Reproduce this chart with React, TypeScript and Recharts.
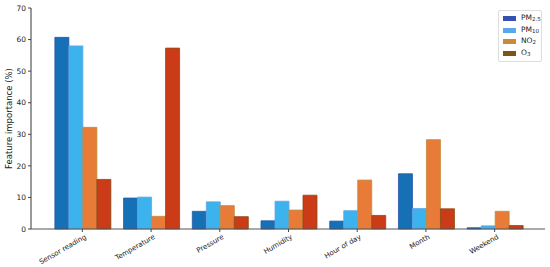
import { Bar, BarChart, XAxis, YAxis } from "recharts";

const features = ["Sensor reading", "Temperature", "Pressure", "Humidity", "Hour of day", "Month", "Weekend"];
const pm25 = [60.7, 9.8, 5.6, 2.6, 2.5, 17.5, 0.4];
const pm10 = [58.0, 10.1, 8.6, 8.8, 5.8, 6.5, 1.0];
const no2 = [32.2, 4.0, 7.4, 6.0, 15.5, 28.3, 5.6];
const o3 = [15.7, 57.3, 3.9, 10.7, 4.3, 6.4, 1.1];
const yTicks = [0, 10, 20, 30, 40, 50, 60, 70];

const data = features.map((f, i) => ({ feature: f, pm25: pm25[i], pm10: pm10[i], no2: no2[i], o3: o3[i] }));

const legendItems = [
  { color: "#3552b0", base: "PM", sub: "2.5" },
  { color: "#5aa8ec", base: "PM", sub: "10" },
  { color: "#c98a3a", base: "NO", sub: "2" },
  { color: "#7a5514", base: "O", sub: "3" },
];

function LegendBox() {
  return (
    <div
      style={{
        position: "absolute",
        left: 498,
        top: 10,
        width: 44,
        boxSizing: "border-box",
        border: "1px solid #ddd",
        borderRadius: 2,
        background: "#fff",
        padding: "2px 0 2px 4px",
        fontSize: 7.5,
        fontFamily: "DejaVu Sans",
        color: "#222",
        lineHeight: "10.5px",
      }}
    >
      {legendItems.map((it) => (
        <div key={it.base + it.sub} style={{ display: "flex", alignItems: "center" }}>
          <span style={{ width: 13, height: 5, background: it.color, marginRight: 5, display: "inline-block" }} />
          <span style={{ color: "#222" }}>
            {it.base}
            <sub style={{ fontSize: 5.5, verticalAlign: "-1px" }}>{it.sub}</sub>
          </span>
        </div>
      ))}
    </div>
  );
}

function RotTick({ x, y, payload }: any) {
  const ax = x + 2;
  const ay = y;
  return (
    <text
      x={ax}
      y={ay}
      transform={`rotate(-30 ${ax} ${ay})`}
      textAnchor="end"
      dominantBaseline="hanging"
      fontSize={7}
      fontFamily="DejaVu Sans"
      fill="#222"
    >
      {payload.value}
    </text>
  );
}

export default function App() {
  return (
    <div style={{ position: "absolute", left: 0, top: 0, width: 550, height: 267, background: "#fff" }}>
      <BarChart
        width={550}
        height={267}
        data={data}
        margin={{ top: 8, right: 5, bottom: 0, left: 0 }}
        barCategoryGap="10%"
        barGap={0}
      >
        <XAxis
          dataKey="feature"
          height={38}
          interval={0}
          tick={<RotTick />}
          tickLine={{ stroke: "#444" }}
          tickSize={3}
          axisLine={{ stroke: "#555", strokeWidth: 1.2 }}
          padding={{ left: 17, right: 16 }}
        />
        <YAxis
          width={31}
          domain={[0, 70]}
          ticks={yTicks}
          tick={{ fontSize: 7.5, fill: "#222", fontFamily: "DejaVu Sans" }}
          tickLine={{ stroke: "#444" }}
          tickSize={3}
          axisLine={{ stroke: "#555", strokeWidth: 1.2 }}
          label={{
            value: "Feature importance (%)",
            angle: -90,
            position: "insideLeft",
            dx: 4,
            dy: 0,
            style: { fontSize: 8.5, fill: "#222", fontFamily: "DejaVu Sans", textAnchor: "middle" },
          }}
        />
        <Bar dataKey="pm25" fill="#1670b6" stroke="#2a55a8" strokeWidth={0.8} isAnimationActive={false} />
        <Bar dataKey="pm10" fill="#3cb3ec" stroke="#62a6ea" strokeWidth={0.8} isAnimationActive={false} />
        <Bar dataKey="no2" fill="#e87b38" stroke="#c08a3a" strokeWidth={0.8} isAnimationActive={false} />
        <Bar dataKey="o3" fill="#cb3b17" stroke="#8a4a14" strokeWidth={0.8} isAnimationActive={false} />
      </BarChart>
      <LegendBox />
    </div>
  );
}
